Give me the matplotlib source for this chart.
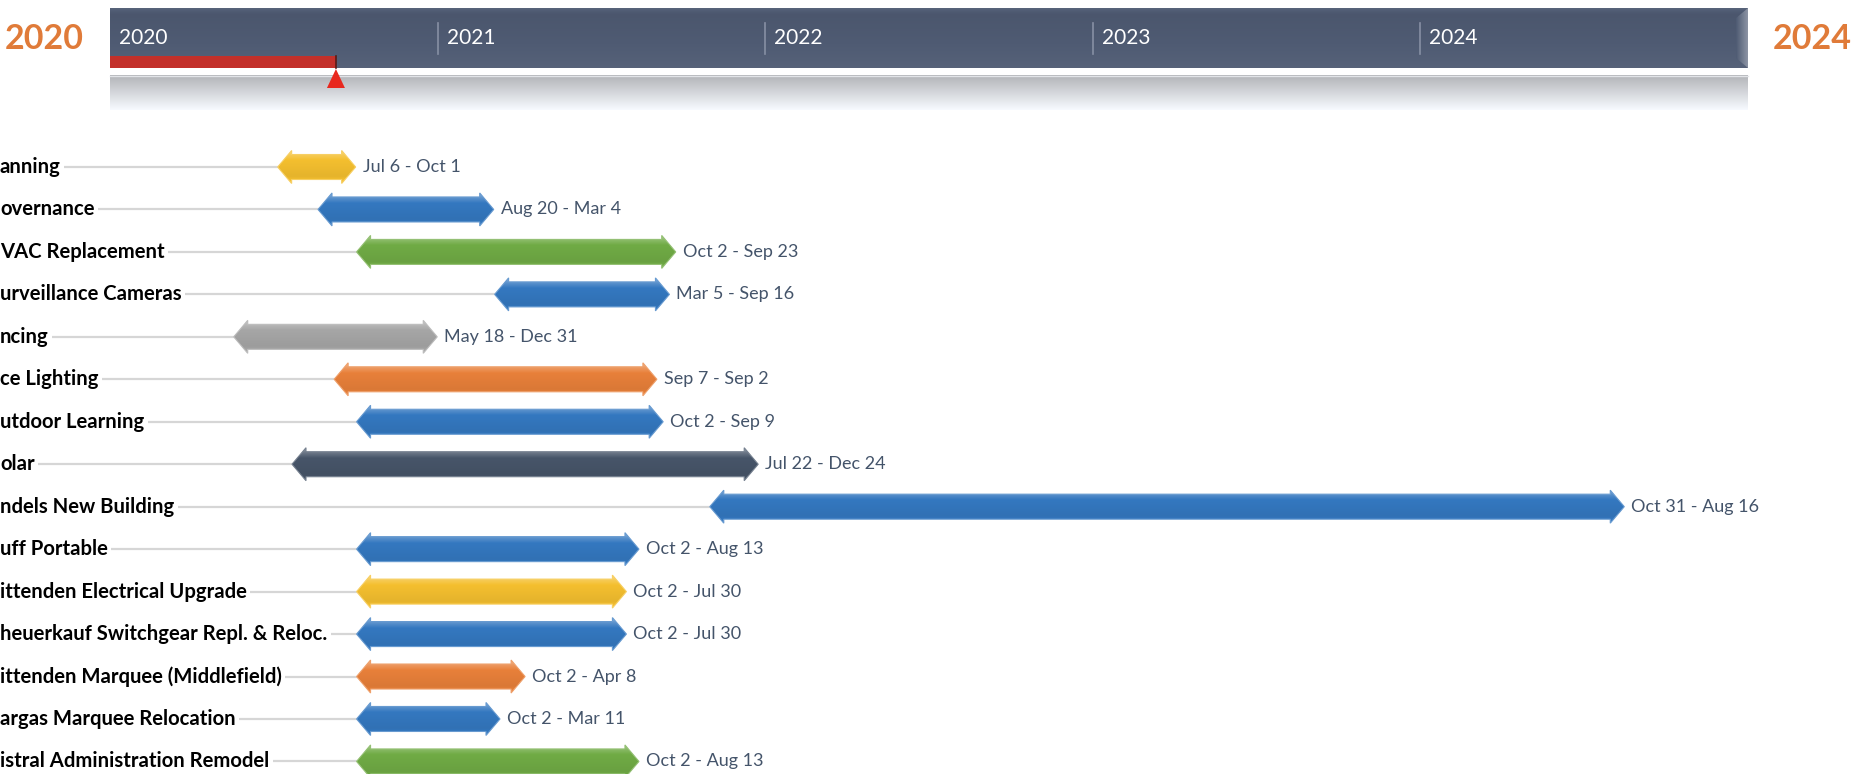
import numpy as np
import matplotlib.pyplot as plt
import matplotlib.dates as mdates
from matplotlib.patches import Polygon, Rectangle
from matplotlib.colors import to_rgb
from datetime import date

plt.rcParams['font.family'] = ['Lato', 'DejaVu Sans']

# ---- data ----
labels = ["anning", "overnance", "VAC Replacement", "urveillance Cameras", "ncing",
          "ce Lighting", "utdoor Learning", "olar", "ndels New Building", "uff Portable",
          "ittenden Electrical Upgrade", "heuerkauf Switchgear Repl. & Reloc.",
          "ittenden Marquee (Middlefield)", "argas Marquee Relocation",
          "istral Administration Remodel"]
starts = ["2020-07-06", "2020-08-20", "2020-10-02", "2021-03-05", "2020-05-18",
          "2020-09-07", "2020-10-02", "2020-07-22", "2021-10-31", "2020-10-02",
          "2020-10-02", "2020-10-02", "2020-10-02", "2020-10-02", "2020-10-02"]
ends = ["2020-10-01", "2021-03-04", "2021-09-23", "2021-09-16", "2020-12-31",
        "2021-09-02", "2021-09-09", "2021-12-24", "2024-08-16", "2021-08-13",
        "2021-07-30", "2021-07-30", "2021-04-08", "2021-03-11", "2021-08-13"]
date_labels = ["Jul 6 - Oct 1", "Aug 20 - Mar 4", "Oct 2 - Sep 23", "Mar 5 - Sep 16",
               "May 18 - Dec 31", "Sep 7 - Sep 2", "Oct 2 - Sep 9", "Jul 22 - Dec 24",
               "Oct 31 - Aug 16", "Oct 2 - Aug 13", "Oct 2 - Jul 30", "Oct 2 - Jul 30",
               "Oct 2 - Apr 8", "Oct 2 - Mar 11", "Oct 2 - Aug 13"]
colors = ["#f4bf2f", "#3478c0", "#70ab45", "#3478c0", "#a6a6a6",
          "#e8803a", "#3478c0", "#475569", "#3478c0", "#3478c0",
          "#f4bf2f", "#3478c0", "#e8803a", "#3478c0", "#70ab45"]

years = [2020, 2021, 2022, 2023, 2024]
span_start, span_end = date(2020, 1, 1), date(2025, 1, 1)
today = date(2020, 9, 9)

# ---- figure / scale (x in dates, y in pixels from top) ----
W, H = 1854, 774
fig = plt.figure(figsize=(W / 100, H / 100), dpi=100)
ax = fig.add_axes([0, 0, 1, 1])
ax.axis('off')

d0, d1 = mdates.date2num(span_start), mdates.date2num(span_end)
BAR_L, BAR_R = 110, 1748
dpp = (d1 - d0) / (BAR_R - BAR_L)  # days per pixel
XMIN = d0 - BAR_L * dpp
XMAX = XMIN + W * dpp


def px(p):
    return XMIN + p * dpp


def shade(c, f):
    c = np.array(to_rgb(c))
    return c + (1 - c) * f if f > 0 else c * (1 + f)


def vgrad(c, stops, vals, n=64):
    t = np.linspace(0, 1, n)
    f = np.interp(t, stops, vals)
    return np.array([shade(c, v) for v in f]).reshape(n, 1, 3)


# ---- top timeline bar ----
bar_top, bar_bot = 8, 68
ax.imshow(vgrad("#4f5b73", [0, 0.1, 1], [0.05, -0.05, 0.04]),
          extent=(d0, d1, bar_bot, bar_top), origin='upper', aspect='auto', zorder=1)
# bevelled right end
bev = Polygon([(px(BAR_R - 12), bar_top + 10), (d1, bar_top), (d1, bar_bot),
               (px(BAR_R - 12), bar_bot - 10)], closed=True, facecolor='none',
              edgecolor='none', zorder=2)
ax.add_patch(bev)
hg = np.linspace(0, 1, 32)
bev_img = np.array([shade("#4f5b73", 0.35 * v) for v in hg]).reshape(1, 32, 3)
im = ax.imshow(bev_img, extent=(px(BAR_R - 12), d1, bar_bot, bar_top), origin='upper',
               aspect='auto', zorder=2)
im.set_clip_path(bev)

# reflection below the bar
refl = np.linspace(0.72, 1.0, 64).reshape(64, 1, 1) * np.array([0.97, 0.98, 1.0])
ax.imshow(np.clip(refl, 0, 1), extent=(d0, d1, 110, 75), origin='upper',
          aspect='auto', zorder=1)
ax.plot([d0, d1], [75.5, 75.5], color="#e2e4e8", lw=1, zorder=2)

for y in years:
    xd = mdates.date2num(date(y, 1, 1))
    if y > years[0]:
        ax.plot([xd, xd], [23, 54], color="#8790a4", lw=1.2, zorder=3)
    ax.text(xd + 9 * dpp, 38, str(y), color='white', fontsize=15,
            va='center', ha='left', zorder=4)

# progress to today
td = mdates.date2num(today)
ax.add_patch(Rectangle((d0, 56), td - d0, bar_bot - 56, facecolor="#c3302a",
                       edgecolor='none', zorder=3))
ax.plot([td, td], [56, bar_bot], color="#5a1a16", lw=1.2, zorder=3)
ax.add_patch(Polygon([(td, bar_bot + 1), (td - 9 * dpp, 88), (td + 9 * dpp, 88)],
                     closed=True, facecolor="#e8281e", edgecolor='none', zorder=3))

ax.text(px(84), 39, str(years[0]), color="#e07b39", fontsize=24.5, fontweight='bold',
        ha='right', va='center')
ax.text(px(1773), 39, str(years[-1]), color="#e07b39", fontsize=24.5, fontweight='bold',
        ha='left', va='center')

# ---- task rows ----
ROW0, ROWH = 167, 42.46
HL, HB, HH = 14, 12.5, 16.5  # head length, body half-height, head half-height (px)

for i, (lab, s, e, dl, c) in enumerate(zip(labels, starts, ends, date_labels, colors)):
    yc = ROW0 + i * ROWH
    x0 = mdates.date2num(date.fromisoformat(s))
    x1 = mdates.date2num(date.fromisoformat(e))
    hl = HL * dpp
    verts = [(x0, yc), (x0 + hl, yc - HH), (x0 + hl, yc - HB), (x1 - hl, yc - HB),
             (x1 - hl, yc - HH), (x1, yc), (x1 - hl, yc + HH), (x1 - hl, yc + HB),
             (x0 + hl, yc + HB), (x0 + hl, yc + HH)]
    poly = Polygon(verts, closed=True, facecolor='none',
                   edgecolor=shade(c, 0.25), lw=0.8, zorder=3)
    ax.add_patch(poly)
    im = ax.imshow(vgrad(c, [0, 0.12, 0.3, 0.8, 1], [0.45, 0.22, 0.0, -0.06, 0.05]),
                   extent=(x0, x1, yc + HH, yc - HH), origin='upper', aspect='auto',
                   interpolation='bilinear', zorder=2)
    im.set_clip_path(poly)

    ax.plot([px(0), x0], [yc, yc], color="#d6d6d6", lw=1.6, zorder=1)
    ax.text(px(0), yc, lab, fontsize=14.6, fontweight='bold', color='black',
            ha='left', va='center', zorder=4,
            bbox=dict(facecolor='white', edgecolor='none', pad=2.5))
    ax.text(x1 + 7 * dpp, yc, dl, fontsize=13, color="#44546a",
            ha='left', va='center', zorder=4)

ax.set_xlim(XMIN, XMAX)
ax.set_ylim(H, 0)
fig.savefig("out.png", dpi=100, facecolor='white')
